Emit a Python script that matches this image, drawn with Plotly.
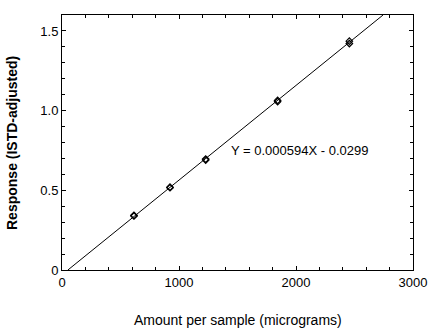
import plotly.graph_objects as go

# Calibration standards: amount per sample (micrograms) and ISTD-adjusted response
amount = [615, 615, 923, 923, 1228, 1228, 1843, 1843, 2456, 2456]
response = [0.339, 0.343, 0.516, 0.520, 0.690, 0.696, 1.056, 1.064, 1.421, 1.436]

# Least-squares fit coefficients
slope = 0.000594
intercept = -0.0299

x_range = [0, 3000]
y_range = [0, 1.6]
x_ticks = [0, 1000, 2000, 3000]
y_ticks = [0, 0.5, 1.0, 1.5]
y_tick_text = ["0", "0.5", "1.0", "1.5"]

x_title = "Amount per sample (micrograms)"
y_title = "Response (ISTD-adjusted)"

# Fit line clipped to the plotted y range
fit_x = [(y_range[0] - intercept) / slope, (y_range[1] - intercept) / slope]
fit_y = [slope * v + intercept for v in fit_x]

font_family = "Liberation Sans, Arial, sans-serif"

fig = go.Figure()
fig.add_trace(go.Scatter(
    x=fit_x, y=fit_y, mode="lines",
    line=dict(color="black", width=1), hoverinfo="skip", showlegend=False,
))
fig.add_trace(go.Scatter(
    x=amount, y=response, mode="markers",
    marker=dict(symbol="diamond-open", size=5, color="black", line=dict(width=1.2, color="black")),
    showlegend=False,
))

fig.add_annotation(
    x=1427, y=0.75, xref="x", yref="y", xanchor="left", yanchor="middle",
    text="Y = 0.000594X - 0.0299", showarrow=False,
    font=dict(family=font_family, size=13, color="black"),
)

# Axis titles placed relative to the plot area
fig.add_annotation(
    x=0.5, y=-0.196, xref="paper", yref="paper", xanchor="center", yanchor="middle",
    text=x_title, showarrow=False,
    font=dict(family=font_family, size=14, color="black"),
)
fig.add_annotation(
    x=-0.1425, y=0.498, xref="paper", yref="paper", xanchor="center", yanchor="middle",
    text="<b>" + y_title + "</b>", showarrow=False, textangle=-90,
    font=dict(family=font_family, size=14, color="black"),
)

axis_common = dict(
    showgrid=False, zeroline=False, showline=True, linecolor="black", linewidth=1,
    mirror="ticks", ticks="inside", ticklen=4, tickcolor="black", tickwidth=1,
    tickfont=dict(family=font_family, size=13, color="black"), automargin=False,
)

fig.update_xaxes(
    range=x_range, tickvals=x_ticks,
    minor=dict(dtick=200, ticks="inside", ticklen=3, tickcolor="black"),
    **axis_common,
)
fig.update_yaxes(
    range=y_range, tickvals=y_ticks, ticktext=y_tick_text,
    minor=dict(dtick=0.1, ticks="inside", ticklen=3, tickcolor="black"),
    **axis_common,
)

fig.update_layout(
    width=437, height=333,
    margin=dict(l=62, r=24, t=15, b=63),
    paper_bgcolor="white", plot_bgcolor="white",
)

fig.write_html("out.html")
